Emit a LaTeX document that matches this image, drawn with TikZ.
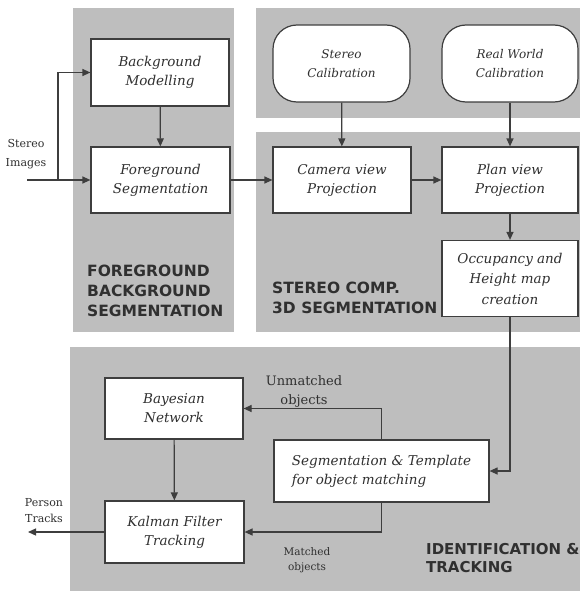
\documentclass[tikz,border=0pt]{standalone}
\usepackage{fontspec}
\setmainfont{DejaVu Serif}
\newfontfamily\headfont{DejaVu Sans}
\usetikzlibrary{arrows.meta,calc}
\definecolor{panelgray}{RGB}{190,190,190}
\definecolor{inkgray}{RGB}{62,62,62}
\definecolor{textgray}{RGB}{48,48,48}

\begin{document}
\begin{tikzpicture}[x=1pt,y=-1pt,
  proc/.style={draw=inkgray, line width=1.2pt, fill=white, inner sep=0pt,
    text=textgray, align=center,
    font=\itshape\fontsize{13.5}{19}\selectfont},
  calib/.style={proc, rounded corners=24pt,
    font=\itshape\fontsize{12}{19}\selectfont},
  flow/.style={draw=inkgray, line width=1.2pt,
    -{Triangle[length=8pt,width=7pt]}},
  head/.style={anchor=north west, align=left, inner sep=0pt, text=textgray,
    font=\headfont\bfseries\fontsize{15.5}{20}\selectfont},
  note/.style={text=textgray, align=center, inner sep=0pt}]

\useasboundingbox (0,0) rectangle (580,591);
\fill[white] (0,0) rectangle (580,591);

% shaded stage panels
\fill[panelgray] (73,8) rectangle (234,332);
\fill[panelgray] (256,8) rectangle (580,118);
\fill[panelgray] (256,132) rectangle (580,332);
\fill[panelgray] (70,347) rectangle (580,591);

% stage titles
\node[head] (tfg) at (87,265) {FOREGROUND\\BACKGROUND\\SEGMENTATION};
\node[head] (tst) at (272,282) {STEREO COMP.\\3D SEGMENTATION};
\node[head, font=\headfont\bfseries\fontsize{15}{18.5}\selectfont]
  (tid) at (426,543) {IDENTIFICATION \&\\TRACKING};

% processing blocks
\node[proc, minimum width=138pt, minimum height=67pt] (bg) at (160,72.5)
  {Background\\Modelling};
\node[proc, minimum width=139pt, minimum height=66pt] (fg) at (160.5,180)
  {Foreground\\Segmentation};
\node[calib, minimum width=137pt, minimum height=77pt] (scal) at (341.5,63.5)
  {Stereo\\Calibration};
\node[calib, minimum width=136pt, minimum height=77pt] (rwc) at (510,63.5)
  {Real World\\Calibration};
\node[proc, minimum width=138pt, minimum height=66pt] (cam) at (342,180)
  {Camera view\\Projection};
\node[proc, minimum width=136pt, minimum height=66pt] (plan) at (510,180)
  {Plan view\\Projection};
\node[proc, minimum width=136pt, minimum height=76pt,
  font=\itshape\fontsize{13.5}{20.5}\selectfont] (occ) at (510,278.5)
  {Occupancy and\\Height map\\creation};
\node[proc, minimum width=138pt, minimum height=61pt] (bay) at (174,408.5)
  {Bayesian\\Network};
\node[proc, minimum width=139pt, minimum height=62pt] (kal) at (174.5,532)
  {Kalman Filter\\Tracking};
\node[proc, minimum width=215pt, minimum height=62pt, align=left] (seg)
  at (381.5,471) {Segmentation \& Template\\for object matching};

% free ends and branch points of the connectors
\coordinate (src) at (27,180);
\coordinate (split) at (58,180);
\coordinate (sink) at (28,532);
\coordinate (segtop) at ($(seg.north west)+(108,0)$);
\coordinate (segbot) at ($(seg.south west)+(108,0)$);

% connector labels
\node[note, font=\fontsize{11}{19}\selectfont] (lin) at (26,154.5)
  {Stereo\\Images};
\node[note, font=\fontsize{11}{16}\selectfont] (lout) at (44,511)
  {Person\\Tracks};
\node[note, font=\fontsize{13}{19}\selectfont] (lun) at (304,391.5)
  {Unmatched\\objects};
\node[note, font=\fontsize{10.5}{15}\selectfont] (lma) at (307,560.5)
  {Matched\\objects};

% data flow
\draw[flow] (src) -- (fg.west);
\draw[flow] (split) |- (bg.west);
\draw[flow] (bg) -- (fg);
\draw[flow] (fg) -- (cam);
\draw[flow] (scal) -- (cam);
\draw[flow] (rwc) -- (plan);
\draw[flow] (cam) -- (plan);
\draw[flow] (plan) -- (occ);
\draw[flow] (occ.south) |- (seg.east);
\draw[flow] (segtop) |- (bay.east);
\draw[flow] (segbot) |- (kal.east);
\draw[flow] (bay) -- (kal);
\draw[flow] (kal.west) -- (sink);

\end{tikzpicture}
\end{document}
